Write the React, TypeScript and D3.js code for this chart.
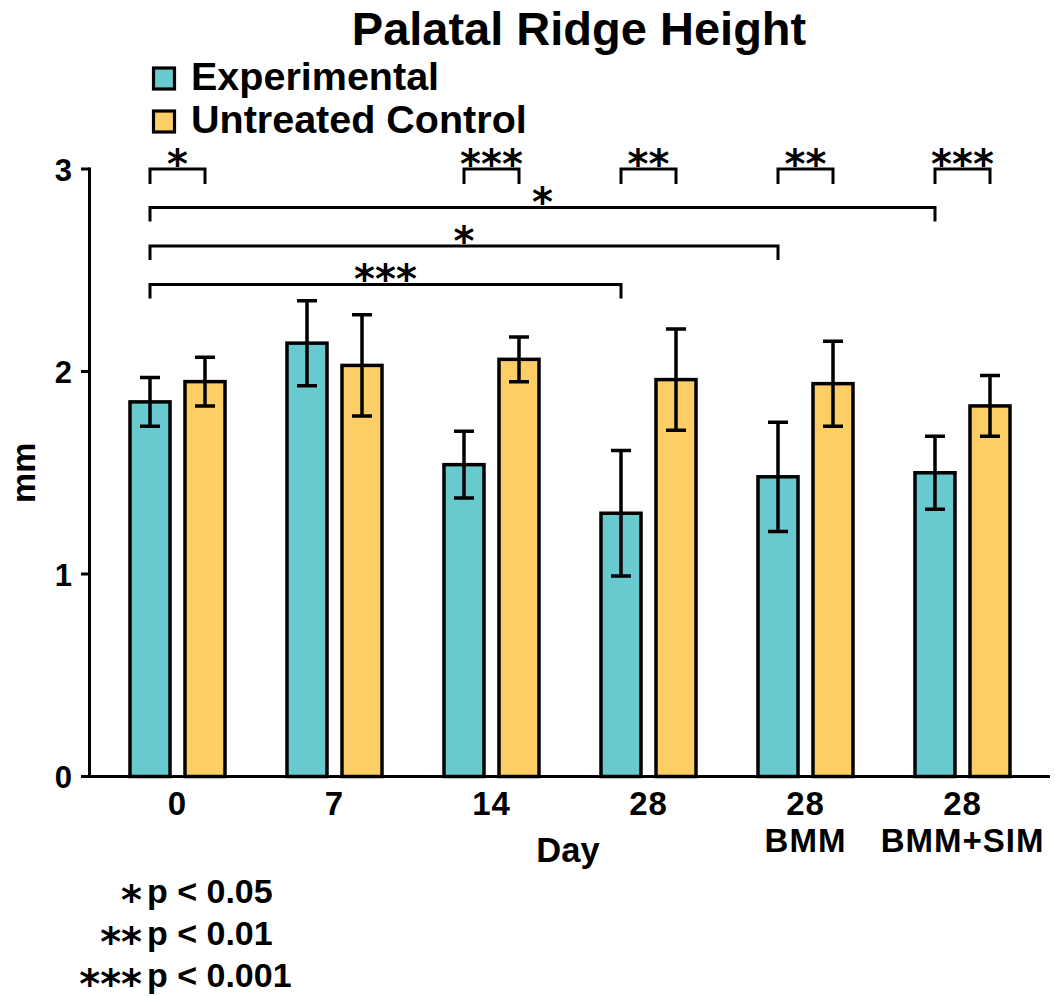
import React from "react";
import * as d3 from "d3";

// Groups along the x axis (each label may span two lines)
const dayLabels: string[][] = [["0"], ["7"], ["14"], ["28"], ["28", "BMM"], ["28", "BMM+SIM"]];
const dayKeys = ["d0", "d7", "d14", "d28", "d28bmm", "d28bmmsim"];
const seriesNames = ["Experimental", "Untreated Control"];

// Means and error (mm)
const experimentalMean = [1.85, 2.14, 1.54, 1.3, 1.48, 1.5];
const experimentalErr = [0.12, 0.21, 0.165, 0.31, 0.27, 0.18];
const controlMean = [1.95, 2.03, 2.06, 1.96, 1.94, 1.83];
const controlErr = [0.12, 0.25, 0.11, 0.25, 0.21, 0.15];

const yTicks = [0, 1, 2, 3];

// Experimental vs. control within a day
const pairGroups = [0, 2, 3, 4, 5];
const pairStars = ["*", "***", "**", "**", "***"];
const pairLevel = 3.0;

// Experimental day 0 vs. later experimental groups
const spanTargets = [5, 4, 3];
const spanStars = ["*", "*", "***"];
const spanLevels = [2.81, 2.62, 2.43];

const pKeyStars = ["*", "**", "***"];
const pKeyText = ["p < 0.05", "p < 0.01", "p < 0.001"];

const W = 1055;
const H = 996;
const FONT = "'Liberation Sans', Arial, Helvetica, sans-serif";
const STAR_FONT = "'DejaVu Sans', 'Liberation Sans', sans-serif";
const TEAL = "#68C9CE";
const GOLD = "#FECE66";
const INK = "#000";

export default function App() {
  const x = d3.scaleBand<string>().domain(dayKeys).range([99, 1041]).padding(0);
  const xSub = d3
    .scaleBand<string>()
    .domain(seriesNames)
    .range([0, x.bandwidth()])
    .paddingInner(0.2727)
    .paddingOuter(0.5636);
  const y = d3.scaleLinear().domain([0, 3]).range([776.5, 169]);

  const axisLeft = 89.5;
  const tickLeft = 81;
  const axisRight = 1050;

  const series = [
    { name: seriesNames[0], mean: experimentalMean, err: experimentalErr, fill: TEAL },
    { name: seriesNames[1], mean: controlMean, err: controlErr, fill: GOLD },
  ];

  const barCenter = (gi: number, si: number) =>
    (x(dayKeys[gi]) ?? 0) + (xSub(seriesNames[si]) ?? 0) + xSub.bandwidth() / 2;
  const groupCenter = (gi: number) => (x(dayKeys[gi]) ?? 0) + x.bandwidth() / 2;

  const capHalf = 10;
  const starLift = 9; // asterisk baseline relative to its bracket line
  const starSize = 40;

  return (
    <svg
      width={W}
      height={H}
      style={{ position: "absolute", left: 0, top: 0, display: "block", background: "#fff" }}
      fontFamily={FONT}
      fontWeight="bold"
    >
      <rect x={0} y={0} width={W} height={H} fill="#fff" />

      {/* title */}
      <text x={579} y={45} textAnchor="middle" fontSize={47} fill={INK}>
        Palatal Ridge Height
      </text>

      {/* legend */}
      {series.map((s, i) => {
        const base = 90 + i * 43;
        return (
          <g key={s.name}>
            <rect x={153.5} y={base - 22} width={21} height={21} fill={s.fill} stroke={INK} strokeWidth={3.2} />
            <text x={191} y={base} fontSize={39.5} fill={INK}>
              {s.name}
            </text>
          </g>
        );
      })}

      {/* bars */}
      {series.map((s, si) =>
        s.mean.map((m, gi) => (
          <rect
            key={`b-${si}-${gi}`}
            x={(x(dayKeys[gi]) ?? 0) + (xSub(s.name) ?? 0)}
            y={y(m)}
            width={xSub.bandwidth()}
            height={y(0) - y(m)}
            fill={s.fill}
            stroke={INK}
            strokeWidth={3.5}
          />
        ))
      )}

      {/* error bars */}
      {series.map((s, si) =>
        s.mean.map((m, gi) => {
          const cx = barCenter(gi, si);
          const hi = y(m + s.err[gi]);
          const lo = y(m - s.err[gi]);
          return (
            <path
              key={`e-${si}-${gi}`}
              d={`M${cx},${lo}V${hi}M${cx - capHalf},${hi}H${cx + capHalf}M${cx - capHalf},${lo}H${cx + capHalf}`}
              fill="none"
              stroke={INK}
              strokeWidth={3.5}
            />
          );
        })
      )}

      {/* axes */}
      <line x1={axisLeft} x2={axisLeft} y1={y(3) - 1.5} y2={y(0)} stroke={INK} strokeWidth={3} />
      <line x1={tickLeft} x2={axisRight} y1={y(0)} y2={y(0)} stroke={INK} strokeWidth={3} />
      {yTicks.map((t) => (
        <g key={`t-${t}`}>
          <line x1={tickLeft} x2={axisLeft} y1={y(t)} y2={y(t)} stroke={INK} strokeWidth={3} />
          <text x={72} y={y(t) + 11.5} textAnchor="end" fontSize={31} fill={INK}>
            {t}
          </text>
        </g>
      ))}

      {/* x tick labels */}
      {dayLabels.map((lines, gi) =>
        lines.map((ln, li) => (
          <text
            key={`x-${gi}-${li}`}
            x={groupCenter(gi)}
            y={815 + li * 37}
            textAnchor="middle"
            fontSize={33}
            letterSpacing={1}
            fill={INK}
          >
            {ln}
          </text>
        ))
      )}

      {/* axis titles */}
      <text x={568} y={862} textAnchor="middle" fontSize={34.5} fill={INK}>
        Day
      </text>
      <text transform={`translate(35,${(y(0) + y(3)) / 2}) rotate(-90)`} textAnchor="middle" fontSize={34} fill={INK}>
        mm
      </text>

      {/* within-day brackets */}
      {pairGroups.map((gi, k) => {
        const x1 = barCenter(gi, 0);
        const x2 = barCenter(gi, 1);
        const yb = y(pairLevel);
        return (
          <g key={`p-${gi}`}>
            <path d={`M${x1},${yb + 15}V${yb}H${x2}V${yb + 15}`} fill="none" stroke={INK} strokeWidth={3} />
            <text
              x={(x1 + x2) / 2}
              y={yb + starLift}
              textAnchor="middle"
              fontFamily={STAR_FONT}
              fontSize={starSize}
              fill={INK}
            >
              {pairStars[k]}
            </text>
          </g>
        );
      })}

      {/* day-0 reference brackets */}
      {spanTargets.map((gi, k) => {
        const x1 = barCenter(0, 0);
        const x2 = barCenter(gi, 0);
        const yb = y(spanLevels[k]);
        return (
          <g key={`s-${gi}`}>
            <path d={`M${x1},${yb + 14}V${yb}H${x2}V${yb + 14}`} fill="none" stroke={INK} strokeWidth={3} />
            <text
              x={(x1 + x2) / 2}
              y={yb + starLift}
              textAnchor="middle"
              fontFamily={STAR_FONT}
              fontSize={starSize}
              fill={INK}
            >
              {spanStars[k]}
            </text>
          </g>
        );
      })}

      {/* significance key */}
      {pKeyText.map((t, i) => {
        const base = 903 + i * 42;
        return (
          <text key={`k-${i}`} x={147} y={base} fontSize={34} fill={INK}>
            <tspan x={142} dy={11} textAnchor="end" fontFamily={STAR_FONT} fontSize={starSize}>
              {pKeyStars[i]}
            </tspan>
            <tspan x={147} dy={-11}>
              {t}
            </tspan>
          </text>
        );
      })}
    </svg>
  );
}
